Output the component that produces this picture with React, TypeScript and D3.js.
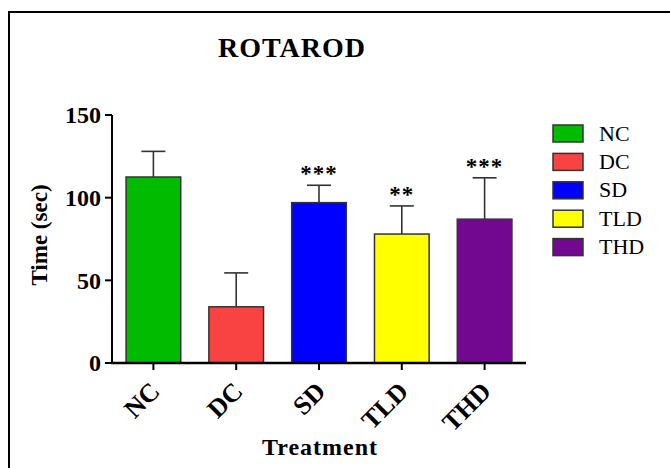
import React from "react";
import * as d3 from "d3";

const categories = ["NC", "DC", "SD", "TLD", "THD"];
const means = [112.5, 34, 97, 78, 87];
const errors = [15.5, 20.5, 10.5, 17, 25];
const stars = ["", "", "***", "**", "***"];
const colors = ["#00BB00", "#F94343", "#0000FF", "#FFFF00", "#730890"];
const yTicks = [0, 50, 100, 150];

const W = 670;
const H = 468;
const FONT = "'Liberation Serif', 'Times New Roman', serif";

export default function App() {
  const x = d3
    .scaleBand<string>()
    .domain(categories)
    .range([112, 526])
    .paddingInner(0.34)
    .paddingOuter(0.17);
  const y = d3.scaleLinear().domain([0, 150]).range([363, 115]);
  const bw = x.bandwidth();
  const capW = 24;

  return (
    <svg
      width={W}
      height={H}
      style={{ position: "absolute", left: 0, top: 0, background: "#fff" }}
      fontFamily={FONT}
    >
      <rect x={0} y={0} width={W} height={H} fill="#fff" />
      <rect x={9} y={12} width={720} height={520} fill="none" stroke="#000" strokeWidth={2} />

      <text x={292} y={57} textAnchor="middle" fontSize={28} fontWeight="bold" letterSpacing={1} fill="#000">
        ROTAROD
      </text>

      {/* bars */}
      {categories.map((c, i) => {
        const cx = (x(c) as number) + bw / 2;
        const top = y(means[i]);
        const et = y(means[i] + errors[i]);
        return (
          <g key={c}>
            <line x1={cx} x2={cx} y1={top} y2={et} stroke="#333" strokeWidth={1.6} />
            <line x1={cx - capW / 2} x2={cx + capW / 2} y1={et} y2={et} stroke="#333" strokeWidth={1.6} />
            <rect
              x={x(c)}
              y={top}
              width={bw}
              height={y(0) - top}
              fill={colors[i]}
              stroke="#333"
              strokeWidth={1.5}
            />
            {stars[i] && (
              <text
                x={cx}
                y={et - 4}
                textAnchor="middle"
                fontSize={23}
                fontWeight="bold"
                letterSpacing={1}
                fill="#000"
              >
                {stars[i]}
              </text>
            )}
          </g>
        );
      })}

      {/* y axis */}
      <line x1={112} x2={112} y1={y(150)} y2={y(0) + 1} stroke="#000" strokeWidth={2} />
      {yTicks.map((t) => (
        <g key={t}>
          <line x1={105} x2={112} y1={y(t)} y2={y(t)} stroke="#000" strokeWidth={2} />
          <text
            x={101}
            y={y(t)}
            dy="0.35em"
            textAnchor="end"
            fontSize={24}
            fontWeight="bold"
            fill="#000"
          >
            {t}
          </text>
        </g>
      ))}
      <text
        transform={`translate(47,235) rotate(-90)`}
        textAnchor="middle"
        fontSize={23}
        fontWeight="bold"
        fill="#000"
      >
        Time (sec)
      </text>

      {/* x axis */}
      <line x1={111} x2={526} y1={y(0)} y2={y(0)} stroke="#000" strokeWidth={2.5} />
      {categories.map((c) => {
        const cx = (x(c) as number) + bw / 2;
        return (
          <g key={c}>
            <line x1={cx} x2={cx} y1={y(0)} y2={y(0) + 7} stroke="#000" strokeWidth={2} />
            <text
              transform={`translate(${cx + 8},${y(0) + 30}) rotate(-45)`}
              textAnchor="end"
              fontSize={26}
              fontWeight="bold"
              fill="#000"
            >
              {c}
            </text>
          </g>
        );
      })}
      <text x={320} y={455} textAnchor="middle" fontSize={24} fontWeight="bold" letterSpacing={1} fill="#000">
        Treatment
      </text>

      {/* legend */}
      {categories.map((c, i) => {
        const cy = 133.5 + i * 28.4;
        return (
          <g key={c}>
            <rect x={553} y={cy - 8.5} width={30} height={17} fill={colors[i]} stroke="#333" strokeWidth={1.5} />
            <text x={599} y={cy + 7} fontSize={22} fill="#000">
              {c}
            </text>
          </g>
        );
      })}
    </svg>
  );
}
